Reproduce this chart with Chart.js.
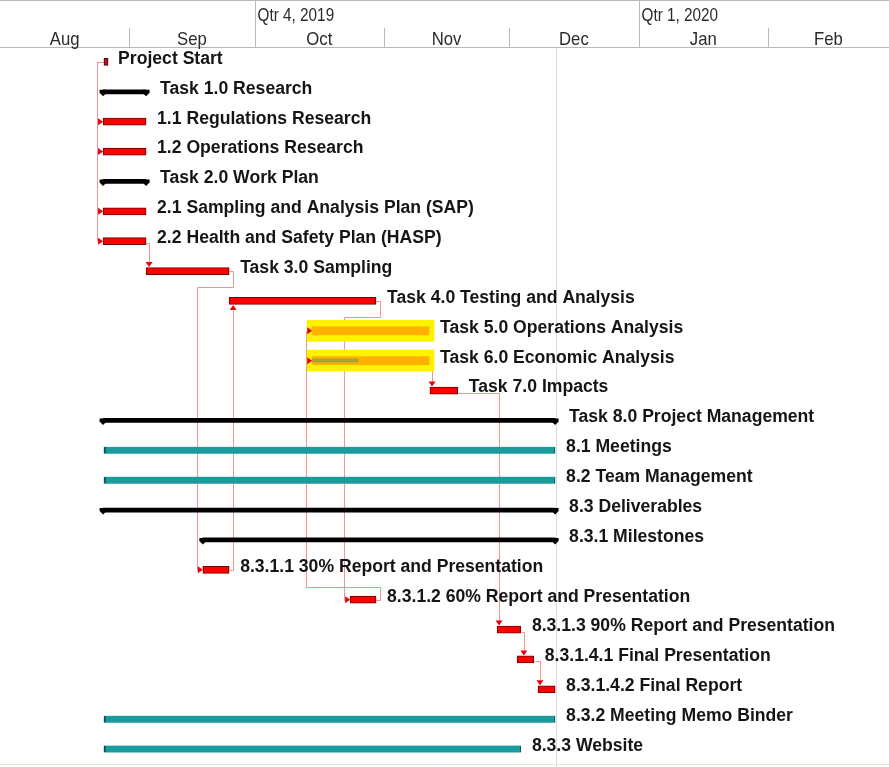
<!DOCTYPE html>
<html lang="en">
<head>
<meta charset="UTF-8">
<title>Project Schedule</title>
<script src="https://cdn.jsdelivr.net/npm/chart.js"></script>
<style>
  html,body{margin:0;padding:0;background:#fff;}
  #wrap{width:889px;height:767px;}
</style>
</head>
<body>
<div id="wrap"><canvas id="gantt" width="889" height="767"></canvas></div>
<script>
// timescale: days counted from Aug 1, 2019
const monthNames = ['Aug', 'Sep', 'Oct', 'Nov', 'Dec', 'Jan', 'Feb'];
const monthStarts = [0, 31, 61, 92, 122, 153, 184];
const quarterLabels = ['Qtr 4, 2019', 'Qtr 1, 2020'];
const quarterStarts = [61, 153];
const lastDay = 213;
const statusDay = 133.3;

// tasks
const taskNames = [
  'Project Start',
  'Task 1.0 Research',
  '1.1 Regulations Research',
  '1.2 Operations Research',
  'Task 2.0 Work Plan',
  '2.1 Sampling and Analysis Plan (SAP)',
  '2.2 Health and Safety Plan (HASP)',
  'Task 3.0 Sampling',
  'Task 4.0 Testing and Analysis',
  'Task 5.0 Operations Analysis',
  'Task 6.0 Economic Analysis',
  'Task 7.0 Impacts',
  'Task 8.0 Project Management',
  '8.1 Meetings',
  '8.2 Team Management',
  '8.3 Deliverables',
  '8.3.1 Milestones',
  '8.3.1.1 30% Report and Presentation',
  '8.3.1.2 60% Report and Presentation',
  '8.3.1.3 90% Report and Presentation',
  '8.3.1.4.1 Final Presentation',
  '8.3.1.4.2 Final Report',
  '8.3.2 Meeting Memo Binder',
  '8.3.3 Website'
];
const taskKind = [
  'milestone', 'summary', 'task', 'task', 'summary', 'task', 'task', 'task',
  'task', 'critical', 'critical', 'task', 'summary', 'ongoing', 'ongoing', 'summary',
  'summary', 'task', 'task', 'task', 'task', 'task', 'ongoing', 'ongoing'
];
const taskStart = [
  24.9, 24.7, 24.7, 24.7, 24.7, 24.7, 24.7, 35.0,
  54.9, 74.8, 74.8, 103.0, 24.7, 24.9, 24.9, 24.7,
  48.6, 48.6, 83.9, 119.1, 123.9, 128.9, 24.9, 24.9
];
const taskEnd = [
  25.9, 35.0, 35.0, 35.0, 35.0, 35.0, 35.0, 54.9,
  90.1, 102.8, 102.8, 109.7, 133.0, 133.0, 133.0, 133.0,
  133.0, 54.9, 90.1, 124.8, 127.9, 133.0, 133.0, 124.8
];
const progressEnd = [
  null, null, null, null, null, null, null, null,
  null, null, 85.8, null, null, null, null, null,
  null, null, null, null, null, null, null, null
];
const highlightRows = [9, 10];
const highlightPad = 1.2; // days

// dependencies: [from, to, routing]
const links = [
  [0, 2, 'ss'], [0, 3, 'ss'], [0, 5, 'ss'], [0, 6, 'ss'],
  [6, 7, 'down'], [7, 17, 'route'], [17, 8, 'up'], [8, 18, 'route'],
  [18, 9, 'route'], [18, 10, 'route'], [10, 11, 'down'], [11, 19, 'down'],
  [19, 20, 'down'], [20, 21, 'down']
];

function pick(kind){
  return taskNames.map((n, i) => taskKind[i] === kind ? [taskStart[i], taskEnd[i]] : null);
}
const progressData = taskNames.map((n, i) => progressEnd[i] == null ? null : [taskStart[i], progressEnd[i]]);
const highlightData = taskNames.map((n, i) => highlightRows.includes(i) ? [taskStart[i] - highlightPad, taskEnd[i] + highlightPad] : null);

const lineColor = '#f39393';
const arrowColor = '#e8000b';

// narrow header text: draw a wide font squeezed horizontally
function narrowText(ctx, txt, x, y, size, squeeze, align){
  ctx.save();
  ctx.font = size + 'px "Liberation Sans", Arial, sans-serif';
  ctx.textAlign = align;
  ctx.textBaseline = 'middle';
  ctx.translate(x, y);
  ctx.scale(squeeze, 1);
  ctx.fillText(txt, 0, 0);
  ctx.restore();
}

const ganttPlugin = {
  id: 'gantt',
  beforeDraw(chart){
    const {ctx, scales: {x}} = chart;
    const W = chart.width;
    ctx.save();
    ctx.fillStyle = '#fff';
    ctx.fillRect(0, 0, W, chart.height);
    ctx.strokeStyle = '#b9b9b9';
    ctx.lineWidth = 1;
    const seg = (x1, y1, x2, y2) => { ctx.beginPath(); ctx.moveTo(x1, y1); ctx.lineTo(x2, y2); ctx.stroke(); };
    seg(0, 0.5, W, 0.5);
    seg(0, 47.5, W, 47.5);
    quarterStarts.forEach(d => { const p = Math.round(x.getPixelForValue(d)) + 0.5; seg(p, 0, p, 47); });
    monthStarts.slice(1).forEach(d => { const p = Math.round(x.getPixelForValue(d)) + 0.5; seg(p, 28, p, 47); });
    ctx.fillStyle = '#2a2a2a';
    quarterLabels.forEach((q, i) => narrowText(ctx, q, x.getPixelForValue(quarterStarts[i]) + 3, 16, 18, 0.85, 'left'));
    monthNames.forEach((m, i) => {
      const a = monthStarts[i], b = i + 1 < monthStarts.length ? monthStarts[i + 1] : lastDay;
      narrowText(ctx, m, x.getPixelForValue((a + b) / 2), 40, 19, 0.88, 'center');
    });
    ctx.restore();
  },
  beforeDatasetsDraw(chart){
    const {ctx, chartArea, scales: {x, y}} = chart;
    const px = d => x.getPixelForValue(d);
    const py = r => y.getPixelForValue(r);
    const rowH = py(1) - py(0);
    ctx.save();
    // status line
    ctx.strokeStyle = '#dcdcdc';
    ctx.lineWidth = 1;
    const sx = Math.round(px(statusDay)) + 0.5;
    ctx.beginPath(); ctx.moveTo(sx, 48); ctx.lineTo(sx, chart.height); ctx.stroke();
    ctx.strokeStyle = '#dde8d4';
    ctx.beginPath(); ctx.moveTo(0, chartArea.bottom + 0.5); ctx.lineTo(chart.width, chartArea.bottom + 0.5); ctx.stroke();
    // dependency lines
    ctx.strokeStyle = lineColor;
    links.forEach(([a, b, kind]) => {
      const pts = linkPath(a, b, kind, px, py, rowH);
      ctx.beginPath();
      pts.forEach((p, i) => i ? ctx.lineTo(Math.round(p[0]) + 0.5, Math.round(p[1]) + 0.5) : ctx.moveTo(Math.round(p[0]) + 0.5, Math.round(p[1]) + 0.5));
      ctx.stroke();
    });
    ctx.restore();
  },
  afterDatasetsDraw(chart){
    const {ctx, scales: {x, y}} = chart;
    const px = d => x.getPixelForValue(d);
    const py = r => y.getPixelForValue(r);
    const rowH = py(1) - py(0);
    ctx.save();
    // summary end caps
    ctx.fillStyle = '#000';
    taskNames.forEach((n, i) => {
      if (taskKind[i] !== 'summary') return;
      [px(taskStart[i]), px(taskEnd[i])].forEach(p => {
        const c = py(i);
        ctx.beginPath();
        ctx.moveTo(p - 3.5, c - 2); ctx.lineTo(p + 3.5, c - 2); ctx.lineTo(p + 3.5, c + 1);
        ctx.lineTo(p, c + 4.5); ctx.lineTo(p - 3.5, c + 1); ctx.closePath(); ctx.fill();
      });
    });
    // arrow heads
    ctx.fillStyle = arrowColor;
    links.forEach(([a, b, kind]) => {
      const pts = linkPath(a, b, kind, px, py, rowH);
      const [tx, ty] = pts[pts.length - 1];
      const [qx, qy] = pts[pts.length - 2];
      ctx.beginPath();
      if (Math.abs(tx - qx) > Math.abs(ty - qy)) {
        ctx.moveTo(tx + 5, ty); ctx.lineTo(tx, ty - 3.5); ctx.lineTo(tx, ty + 3.5);
      } else {
        const s = ty > qy ? 1 : -1;
        ctx.moveTo(tx, ty + 5 * s); ctx.lineTo(tx - 3.5, ty); ctx.lineTo(tx + 3.5, ty);
      }
      ctx.closePath(); ctx.fill();
    });
    // task labels
    ctx.fillStyle = '#151515';
    ctx.font = 'bold 17.6px "Liberation Sans", Arial, sans-serif';
    ctx.textAlign = 'left';
    ctx.textBaseline = 'middle';
    taskNames.forEach((n, i) => {
      const gap = taskKind[i] === 'summary' ? 14 : (taskKind[i] === 'milestone' ? 10 : 11);
      ctx.fillText(n, px(taskEnd[i]) + gap, py(i) - 3);
    });
    ctx.restore();
  }
};

// polyline for a dependency; the last point is where the arrow head starts
function linkPath(a, b, kind, px, py, rowH){
  const ya = py(a), yb = py(b);
  const endA = px(taskEnd[a]), startA = px(taskStart[a]), startB = px(taskStart[b]);
  if (kind === 'ss') {
    const xl = Math.min(startA, startB) - 6;
    return [[startA, ya], [xl, ya], [xl, yb], [startB - 5, yb]];
  }
  if (kind === 'down') {
    const xv = Math.max(startB + 2, endA + 3);
    return [[endA, ya + 2], [xv, ya + 2], [xv, yb - 9]];
  }
  if (kind === 'up') {
    const xv = startB + 4;
    return [[endA, ya], [xv, ya], [xv, yb + 9]];
  }
  const dir = b > a ? 1 : -1;
  const xr = endA + 4;
  const ym = ya + dir * (rowH / 2 + (dir > 0 ? 1 : -2));
  const xl = startB - 6;
  return [[endA, ya], [xr, ya], [xr, ym], [xl, ym], [xl, yb], [startB - 5, yb]];
}

const common = {grouped: false, borderSkipped: false};
new Chart(document.getElementById('gantt'), {
  type: 'bar',
  data: {
    labels: taskNames,
    datasets: [
      {...common, label: 'Progress', data: progressData, backgroundColor: '#a7a436', barThickness: 3, order: 1},
      {...common, label: 'Milestone', data: pick('milestone'), backgroundColor: '#b5122b', borderColor: '#4a0000', borderWidth: 1, barThickness: 7, order: 2},
      {...common, label: 'Task', data: pick('task'), backgroundColor: '#ff0000', borderColor: '#6e0000', borderWidth: 1, barThickness: 7, order: 2},
      {...common, label: 'Critical', data: pick('critical'), backgroundColor: '#ffb000', barThickness: 8, order: 2},
      {...common, label: 'Ongoing', data: pick('ongoing'), backgroundColor: '#1b9b9b', borderColor: '#0a4d4d', borderWidth: {left: 2, right: 1, top: 0, bottom: 0}, barThickness: 7, order: 2},
      {...common, label: 'Summary', data: pick('summary'), backgroundColor: '#000', barThickness: 4, order: 2},
      {...common, label: 'Highlight', data: highlightData, backgroundColor: '#fff200', barThickness: 21, order: 9}
    ]
  },
  options: {
    indexAxis: 'y',
    responsive: false,
    animation: false,
    layout: {padding: {top: 47, bottom: 3, left: 0, right: 0}},
    scales: {
      x: {type: 'linear', min: 0, max: lastDay, display: false},
      y: {display: false}
    },
    plugins: {legend: {display: false}, tooltip: {enabled: false}}
  },
  plugins: [ganttPlugin]
});
</script>
</body>
</html>
